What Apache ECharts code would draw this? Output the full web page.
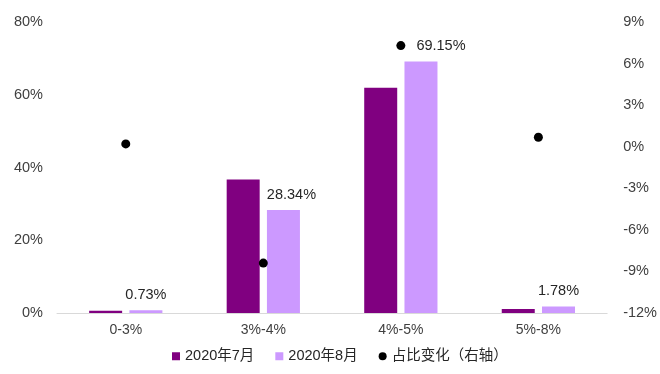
<!DOCTYPE html>
<html><head><meta charset="utf-8">
<script src="https://cdn.jsdelivr.net/npm/echarts@6/dist/echarts.min.js"></script>
<style>html,body{margin:0;padding:0;background:#fff}#c{width:660px;height:374px}</style>
</head><body><div id="c"></div>
<script>
const categories = ['0-3%', '3%-4%', '4%-5%', '5%-8%'];
const july = [0.6, 36.7, 61.9, 1.1];
const august = [0.73, 28.34, 69.15, 1.78];
const change = [0.2, -8.4, 7.3, 0.68];
const augLabelShift = [0, 8, 20, 0];
const seriesNames = ['2020年7月', '2020年8月', '占比变化（右轴）'];

const font = 'Arial, "Liberation Sans", "Noto Sans CJK SC", sans-serif';
const chart = echarts.init(document.getElementById('c'));
chart.setOption({
  animation: false,
  textStyle: { fontFamily: font },
  grid: { left: 57, right: 46, top: 22, bottom: 61 },
  legend: {
    top: 349, left: 172, padding: 0, itemWidth: 8, itemHeight: 8, itemGap: 21,
    textStyle: { fontSize: 14.5, color: '#262626', fontFamily: font },
    data: [
      { name: seriesNames[0], icon: 'rect', textStyle: { width: 69 } },
      { name: seriesNames[1], icon: 'rect', textStyle: { width: 67 } },
      { name: seriesNames[2], icon: 'circle', textStyle: { width: 113 } }
    ]
  },
  xAxis: {
    type: 'category', data: categories,
    axisLine: { lineStyle: { color: '#d9d9d9' } },
    axisTick: { inside: true, length: 5, lineStyle: { color: '#d9d9d9' } },
    axisLabel: { color: '#404040', fontSize: 14, margin: 10 }
  },
  yAxis: [
    { type: 'value', min: 0, max: 80, interval: 20,
      splitLine: { show: false }, axisLine: { show: false }, axisTick: { show: false },
      axisLabel: { formatter: '{value}%', color: '#404040', fontSize: 14.5, margin: 14 } },
    { type: 'value', min: -12, max: 9, interval: 3,
      splitLine: { show: false }, axisLine: { show: false }, axisTick: { show: false },
      axisLabel: { formatter: '{value}%', color: '#404040', fontSize: 14.5, margin: 16 } }
  ],
  series: [
    { name: seriesNames[0], type: 'bar', data: july, barWidth: 33, barGap: '22%',
      itemStyle: { color: '#800080' } },
    { name: seriesNames[1], type: 'bar', data: august.map((v, i) => ({
        value: v, label: { offset: [augLabelShift[i], 0] } })),
      barWidth: 33, itemStyle: { color: '#cc99ff' },
      label: { show: true, position: 'top', distance: 8, formatter: p => p.value.toFixed(2) + '%',
        color: '#262626', fontSize: 14.5 } },
    { name: seriesNames[2], type: 'scatter', yAxisIndex: 1, data: change, symbolSize: 9,
      itemStyle: { color: '#000', opacity: 1 } }
  ]
});
</script></body></html>
